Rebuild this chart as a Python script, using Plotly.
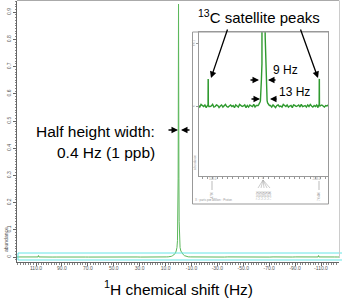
import plotly.graph_objects as go

# ---------------- data ----------------
# baseline noise (abundance x 1e-4) on a regular grid
noise_start_hz = 127.0
noise_step_hz = 2.5
noise_e4 = [1, -2, 3, 0, -1, 2, -3, 1, 2, -1, 0, 3, -2, -1, 2, 1, -3, 0, 2, -2,
            1, 3, -1, -2, 0, 2, -1, 1, -3, 2, 0, -2, 3, 1, -1, 0, 2, -3, 1, -2,
            2, 0, -1, 3, -2, 1, 0, -1, 2, -3, 1, 2, -2, 0, 3, -1, 1, -2, 2, 0,
            -3, 1, 2, -1, 0, -2, 3, 1, -1, 2, -2, 0, 1, -3, 2, 1, -1, 0, 2, -2,
            3, -1, 0, 1, -2, 2, -1, 3, 0, -2, 1, -1, 2, -3, 0, 1, 2, -1, -2, 1,
            0, 2, -1, 1]

# central 1H peak
peak_hz = [11.0, 9.5, 8.0, 7.0, 6.5, 5.5, 4.5, 3.5, 2.5, 1.8, 1.2, 0.8, 0.5, 0.3, 0.2, 0.1, 0.0,
           -0.1, -0.2, -0.3, -0.5, -0.8, -1.2, -1.8, -2.8, -3.8, -4.5, -5.5, -6.5, -7.5, -9.0, -11.0]
peak_abund = [0.0001, 0.0003, 0.0005, 0.0008, 0.0010, 0.0025, 0.0051, 0.008, 0.013, 0.022, 0.035,
              0.060, 0.13, 0.29, 0.465, 0.75, 0.93,
              0.75, 0.465, 0.29, 0.13, 0.060, 0.035, 0.022, 0.013, 0.008, 0.0051, 0.0027, 0.0010,
              0.0006, 0.0003, 0.0001]

# 13C satellites
sat_left_hz = [109.4, 108.4, 108.2, 108.0, 107.8, 106.8]
sat_left_abund = [0.0001, 0.0002, 0.0051, 0.0050, 0.0002, -0.0001]
sat_right_hz = [-106.8, -107.8, -108.0, -108.2, -108.4, -109.4]
sat_right_abund = [0.0002, 0.0001, 0.0050, 0.0051, 0.0002, 0.0000]

x_tick_vals = [110, 90, 70, 50, 30, 10, -10, -30, -50, -70, -90, -110]
x_tick_text = ["110.0", "90.0", "70.0", "50.0", "30.0", "10.0", "-10.0", "-30.0",
               "-50.0", "-70.0", "-90.0", "-110.0"]
y_tick_vals = [0, 0.1, 0.2, 0.3, 0.4, 0.5, 0.6, 0.7, 0.8, 0.9]
y_tick_text = ["0", "0.1", "0.2", "0.3", "0.4", "0.5", "0.6", "0.7", "0.8", "0.9"]
inset_y_tick_vals = [0.0, 0.0118]
inset_y_tick_text = ["0", "0.01"]

# ---------------- build spectrum ----------------
pts = []
for i, v in enumerate(noise_e4):
    h = noise_start_hz - i * noise_step_hz
    if abs(h) < 11.5 or abs(abs(h) - 108) < 1.8:
        continue
    pts.append((h, v * 1e-4))
pts += list(zip(peak_hz, peak_abund))
pts += list(zip(sat_left_hz, sat_left_abund))
pts += list(zip(sat_right_hz, sat_right_abund))
pts.sort(key=lambda p: -p[0])
spec_x = [p[0] for p in pts]
spec_y = [p[1] for p in pts]

# ---------------- layout helpers ----------------
W, H = 342, 299
L, R, T, B = 17, 3, 1, 37
PW, PH = W - L - R, H - T - B


def px(x):
    return (x - L) / PW


def py(y):
    return (H - B - y) / PH


FONT = "Liberation Sans, Arial, sans-serif"

fig = go.Figure()
fig.add_trace(go.Scatter(x=spec_x, y=spec_y, mode="lines",
                         line=dict(color="#5cb85c", width=1), xaxis="x", yaxis="y",
                         hoverinfo="skip", showlegend=False))
fig.add_trace(go.Scatter(x=spec_x, y=spec_y, mode="lines",
                         line=dict(color="#2f9a2f", width=1.4), xaxis="x2", yaxis="y2",
                         hoverinfo="skip", showlegend=False))

axis_grey = "#666666"
fig.update_layout(
    width=W, height=H, margin=dict(l=L, r=R, t=T, b=B),
    paper_bgcolor="white", plot_bgcolor="white", showlegend=False,
    xaxis=dict(domain=[0, 1], anchor="y", range=[124.7, -123.9],
               tickmode="array", tickvals=x_tick_vals, ticktext=x_tick_text,
               tickfont=dict(size=5, color="#555", family=FONT), ticklabelstandoff=-2,
               ticks="outside", ticklen=3, tickcolor=axis_grey, tickwidth=1,
               minor=dict(tickmode="linear", tick0=0, dtick=2, ticks="outside",
                          ticklen=1.5, tickcolor="#888", showgrid=False),
               showline=True, linecolor=axis_grey, linewidth=1,
               showgrid=False, zeroline=False),
    yaxis=dict(domain=[0, 1], anchor="x", range=[-0.0184, 0.9412],
               tickmode="array", tickvals=y_tick_vals, ticktext=y_tick_text,
               tickangle=-90, tickfont=dict(size=5, color="#555", family=FONT),
               ticks="outside", ticklen=3, tickcolor=axis_grey,
               minor=dict(tickmode="linear", tick0=0, dtick=0.01, ticks="outside",
                          ticklen=1.5, tickcolor="#888", showgrid=False),
               showline=True, linecolor=axis_grey, linewidth=1,
               showgrid=False, zeroline=False),
    xaxis2=dict(domain=[px(199), px(328)], anchor="y2", range=[126, -125],
                showticklabels=False, ticks="outside", ticklen=2, tickcolor="#999",
                tickmode="linear", tick0=0, dtick=10,
                showline=True, mirror=True, linecolor="#999", linewidth=1,
                showgrid=False, zeroline=False),
    yaxis2=dict(domain=[py(176), py(32)], anchor="x2", range=[-0.01322, 0.01398],
                tickmode="array", tickvals=inset_y_tick_vals, ticktext=inset_y_tick_text,
                tickangle=-90, tickfont=dict(size=3, color="#999", family=FONT),
                ticks="outside", ticklen=2, tickcolor="#999",
                showline=True, mirror=True, linecolor="#999", linewidth=1,
                showgrid=False, zeroline=False),
)

shapes = []
# cyan selection band around baseline
shapes.append(dict(type="rect", xref="paper", yref="y", x0=px(18), x1=1.02,
                   y0=-0.011, y1=0.0147, line=dict(color="#66e6e6", width=1)))
# outer frame lines (top / right)
shapes.append(dict(type="line", xref="paper", yref="paper", x0=0, x1=1, y0=py(0.5), y1=py(0.5),
                   line=dict(color="#aaaaaa", width=1)))
shapes.append(dict(type="line", xref="paper", yref="paper", x0=px(339.5), x1=px(339.5),
                   y0=py(0.5), y1=py(258), line=dict(color="#cccccc", width=1)))
# inset outer box
shapes.append(dict(type="rect", xref="paper", yref="paper", x0=px(192.5), x1=px(328.5),
                   y0=py(204), y1=py(32), line=dict(color="#999999", width=1)))
# inset peak label leader lines
for x0, ya, yb in [(212, 181, 190), (319, 181, 190)]:
    shapes.append(dict(type="line", xref="paper", yref="paper", x0=px(x0), x1=px(x0),
                       y0=py(ya), y1=py(yb), line=dict(color="#aaa", width=0.8)))
for xb in [258, 261, 264, 267, 270]:
    shapes.append(dict(type="line", xref="paper", yref="paper", x0=px(263), x1=px(xb),
                       y0=py(180), y1=py(188), line=dict(color="#aaa", width=0.6)))
fig.update_layout(shapes=shapes)

ann = []


def text(x, y, s, size, anchor="center", color="black", angle=0):
    ann.append(dict(xref="paper", yref="paper", x=px(x), y=py(y), text=s, showarrow=False,
                    xanchor=anchor, yanchor="middle", textangle=angle,
                    font=dict(size=size, color=color, family=FONT)))


def arrow(hx, hy, dx, dy):
    ann.append(dict(xref="paper", yref="paper", x=px(hx), y=py(hy), ax=dx, ay=dy, text="",
                    showarrow=True, arrowhead=2, arrowsize=1, arrowwidth=1.3,
                    arrowcolor="black"))


text(157, 131, "Half height width:", 15.5, anchor="right")
text(157, 152, "0.4 Hz (1 ppb)", 15.5, anchor="right")
arrow(178, 130, -11, 0)
arrow(181, 130, 10, 0)

text(259, 17, "<sup>13</sup>C satellite peaks", 15)
arrow(211, 78, 17, -50)
arrow(318, 78, -18, -50)

text(271, 70, "9 Hz", 12, anchor="left")
arrow(259, 80, -10, 0)
arrow(268, 80, 9, 0)
text(277, 92, "13 Hz", 12, anchor="left")
arrow(260, 99, -10, 0)
arrow(270, 99, 8, 0)

text(178, 288, "<sup>1</sup>H chemical shift (Hz)", 15.5)
text(6, 240, "abundance", 5, color="#555", angle=-90)

# tiny inset labels
text(195, 163, "abundance", 3, color="#999", angle=-90)
text(213, 179, "108.0", 3, color="#999")
text(263, 178, "0", 3, color="#999")
text(316, 179, "-108.0", 3, color="#999")
text(212, 196, "7.4760", 3, color="#999", angle=-90)
text(319, 196, "7.0440", 3, color="#999", angle=-90)
for xb, lab in [(258, "7.2620"), (261, "7.2610"), (264, "7.2600"), (267, "7.2590"), (270, "7.2580")]:
    text(xb, 195, lab, 3, color="#999", angle=-90)
text(213, 200, "X : parts per Million : Proton", 3, color="#999")

fig.update_layout(annotations=ann)

fig.write_html("out.html", config={"displayModeBar": False},
               post_script="document.body.style.margin='0';document.body.style.padding='0';")
